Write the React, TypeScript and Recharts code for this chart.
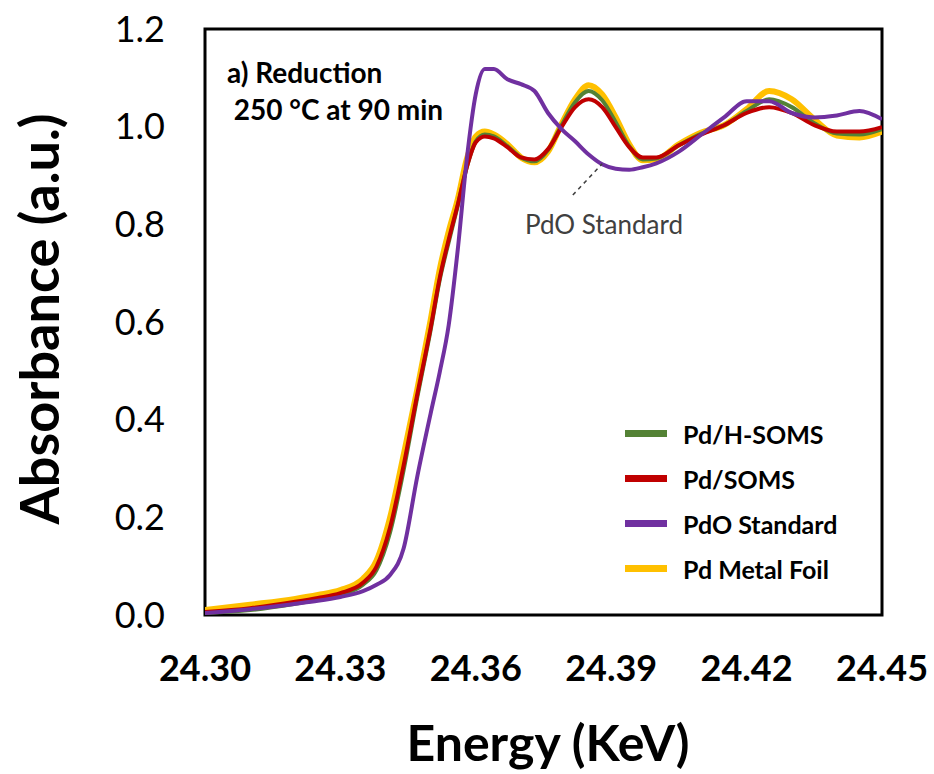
import React from 'react';
import {
  LineChart,
  Line,
  XAxis,
  YAxis,
  ReferenceArea,
  ReferenceLine,
  ReferenceDot,
} from 'recharts';

const FONT = 'Lato, "Open Sans", sans-serif';

// energy grid (KeV) shared by every spectrum
const energy = [
  24.3, 24.31, 24.32, 24.325, 24.33, 24.335, 24.338, 24.341, 24.344, 24.347, 24.35, 24.352,
  24.354, 24.356, 24.358, 24.36, 24.362, 24.364, 24.367, 24.37, 24.373, 24.376, 24.379,
  24.382, 24.385, 24.388, 24.391, 24.394, 24.397, 24.4, 24.405, 24.41, 24.415, 24.42,
  24.425, 24.43, 24.435, 24.44, 24.445, 24.45,
];

const pdHSoms = [
  0.004, 0.01, 0.023, 0.031, 0.041, 0.062, 0.092, 0.169, 0.296, 0.444, 0.584, 0.686, 0.764,
  0.838, 0.917, 0.97, 0.984, 0.98, 0.96, 0.937, 0.929, 0.952, 1.003, 1.05, 1.073, 1.054,
  1.009, 0.96, 0.933, 0.935, 0.962, 0.986, 1.003, 1.032, 1.056, 1.04, 1.007, 0.986, 0.984,
  0.995,
];

const pdSoms = [
  0.006, 0.014, 0.027, 0.035, 0.045, 0.066, 0.099, 0.179, 0.306, 0.45, 0.588, 0.69, 0.769,
  0.84, 0.917, 0.968, 0.98, 0.976, 0.958, 0.937, 0.933, 0.954, 0.999, 1.04, 1.056, 1.04,
  0.999, 0.958, 0.937, 0.937, 0.962, 0.984, 1.003, 1.028, 1.04, 1.028, 1.003, 0.99, 0.99,
  0.999,
];

const pdoStandard = [
  0.004, 0.012, 0.023, 0.029, 0.037, 0.049, 0.062, 0.082, 0.136, 0.282, 0.413, 0.497, 0.594,
  0.748, 0.933, 1.067, 1.118, 1.118, 1.097, 1.087, 1.073, 1.028, 0.995, 0.97, 0.943, 0.923,
  0.914, 0.912, 0.917, 0.925, 0.949, 0.984, 1.019, 1.052, 1.052, 1.028, 1.019, 1.023, 1.032,
  1.015,
];

const pdFoil = [
  0.01, 0.021, 0.033, 0.041, 0.051, 0.074, 0.111, 0.199, 0.327, 0.46, 0.604, 0.707, 0.785,
  0.851, 0.933, 0.98, 0.99, 0.984, 0.964, 0.937, 0.927, 0.949, 1.005, 1.056, 1.085, 1.066,
  1.019, 0.964, 0.931, 0.933, 0.964, 0.988, 1.003, 1.036, 1.073, 1.056, 1.015, 0.982, 0.978,
  0.99,
];

const xTicks = [24.3, 24.33, 24.36, 24.39, 24.42, 24.45];
const yTicks = [0, 0.2, 0.4, 0.6, 0.8, 1.0, 1.2];

const seriesNames = ['Pd/H-SOMS', 'Pd/SOMS', 'PdO Standard', 'Pd Metal Foil'];
const seriesColors = ['#548235', '#c00000', '#7030a0', '#ffc000'];

const data = energy.map((e, i) => ({
  energy: e,
  hsoms: pdHSoms[i],
  soms: pdSoms[i],
  pdo: pdoStandard[i],
  foil: pdFoil[i],
}));

const LegendBox = () => (
  <div
    style={{
      position: 'absolute',
      left: 625,
      top: 411,
      fontFamily: FONT,
      fontWeight: 700,
      fontSize: 25,
      color: '#000',
    }}
  >
    {seriesNames.map((name, i) => (
      <div key={name} style={{ display: 'flex', alignItems: 'center', height: 45 }}>
        <span
          style={{
            display: 'inline-block',
            width: 42,
            height: 7,
            background: seriesColors[i],
            marginRight: 16,
          }}
        />
        <span>{name}</span>
      </div>
    ))}
  </div>
);

export default function App() {
  return (
    <div style={{ position: 'absolute', left: 0, top: 0, width: 934, height: 774, background: '#fff' }}>
      <LineChart
        width={934}
        height={774}
        data={data}
        margin={{ top: 29, right: 52, bottom: 99, left: 125 }}
      >
        <XAxis
          dataKey="energy"
          type="number"
          domain={[24.3, 24.45]}
          ticks={xTicks}
          tickFormatter={(v: number) => v.toFixed(2)}
          axisLine={false}
          tickLine={false}
          tickSize={6}
          tickMargin={34}
          height={60}
          allowDataOverflow
          tick={{ fill: '#000', fontSize: 36, fontWeight: 700, fontFamily: FONT }}
        />
        <YAxis
          type="number"
          domain={[0, 1.2]}
          ticks={yTicks}
          tickFormatter={(v: number) => v.toFixed(1)}
          axisLine={false}
          tickLine={false}
          tickSize={6}
          tickMargin={34}
          width={80}
          allowDataOverflow
          tick={{ fill: '#000', fontSize: 36, fontFamily: FONT }}
        />
        <ReferenceArea x1={24.3} x2={24.45} y1={0} y2={1.2} fill="none" stroke="#000" strokeWidth={3} />
        <Line dataKey="foil" type="monotone" stroke={seriesColors[3]} strokeWidth={6} dot={false} isAnimationActive={false} />
        <Line dataKey="hsoms" type="monotone" stroke={seriesColors[0]} strokeWidth={4} dot={false} isAnimationActive={false} />
        <Line dataKey="soms" type="monotone" stroke={seriesColors[1]} strokeWidth={4} dot={false} isAnimationActive={false} />
        <Line dataKey="pdo" type="monotone" stroke={seriesColors[2]} strokeWidth={4} dot={false} isAnimationActive={false} />
        <ReferenceLine
          segment={[
            { x: 24.3815, y: 0.86 },
            { x: 24.388, y: 0.924 },
          ]}
          stroke="#404040"
          strokeWidth={1.5}
          strokeDasharray="4 4"
        />
        <ReferenceDot
          x={24.3884}
          y={0.8}
          r={0}
          fill="none"
          stroke="none"
          label={{ value: 'PdO Standard', position: 'center', fill: '#404040', fontSize: 26, fontFamily: FONT }}
        />
      </LineChart>
      <LegendBox />
      <div
        style={{
          position: 'absolute',
          left: 227,
          top: 54,
          fontFamily: FONT,
          fontWeight: 700,
          fontSize: 28,
          lineHeight: '37px',
          color: '#000',
          whiteSpace: 'pre',
        }}
      >
        {'a) Reduction\n 250 °C at 90 min'}
      </div>
      <div
        style={{
          position: 'absolute',
          left: 0,
          top: 712,
          width: 1096,
          textAlign: 'center',
          fontFamily: FONT,
          fontWeight: 700,
          fontSize: 50,
          color: '#000',
        }}
      >
        Energy (KeV)
      </div>
      <div
        style={{
          position: 'absolute',
          left: 38,
          top: 319,
          transform: 'translate(-50%, -50%) rotate(-90deg)',
          fontFamily: FONT,
          fontWeight: 700,
          fontSize: 54,
          color: '#000',
          whiteSpace: 'nowrap',
        }}
      >
        Absorbance (a.u.)
      </div>
    </div>
  );
}
